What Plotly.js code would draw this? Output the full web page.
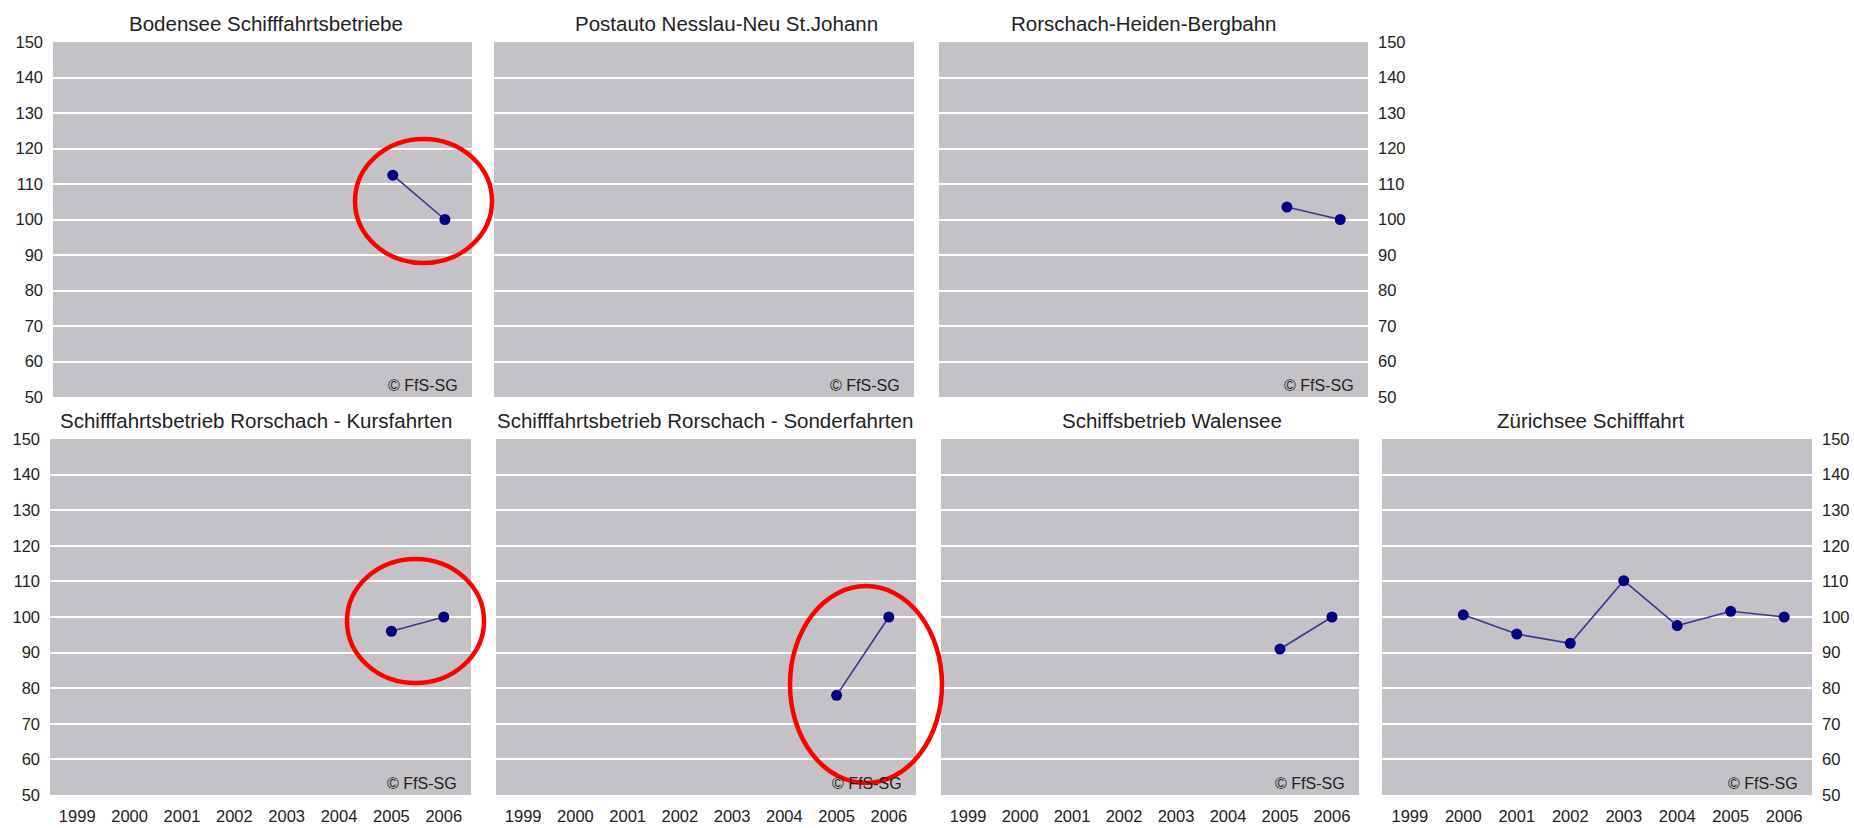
<!DOCTYPE html>
<html>
<head>
<meta charset="utf-8">
<script src="https://cdn.plot.ly/plotly-3.0.1.min.js"></script>
<style>
  html, body { margin: 0; padding: 0; background: #ffffff; }
  #chart { width: 1854px; height: 828px; }
</style>
</head>
<body>
<div id="chart"></div>
<script>
// ---- Data ----
const years = ['1999', '2000', '2001', '2002', '2003', '2004', '2005', '2006'];
const yTicks = [50, 60, 70, 80, 90, 100, 110, 120, 130, 140, 150];

const titles = [
  'Bodensee Schifffahrtsbetriebe',
  'Postauto Nesslau-Neu St.Johann',
  'Rorschach-Heiden-Bergbahn',
  'Schifffahrtsbetrieb Rorschach - Kursfahrten',
  'Schifffahrtsbetrieb Rorschach - Sonderfahrten',
  'Schiffsbetrieb Walensee',
  'Zürichsee Schifffahrt'
];

const bodensee        = [null, null, null, null, null, null, 112.5, 100];
const postauto        = [null, null, null, null, null, null, null, null];
const rorschachHeiden = [null, null, null, null, null, null, 103.5, 100];
const kursfahrten     = [null, null, null, null, null, null, 96, 100];
const sonderfahrten   = [null, null, null, null, null, null, 78, 100];
const walensee        = [null, null, null, null, null, null, 91, 100];
const zuerichsee      = [null, 100.6, 95.2, 92.6, 110.2, 97.6, 101.6, 100];

const series = [bodensee, postauto, rorschachHeiden, kursfahrten, sonderfahrten, walensee, zuerichsee];
const copyright = '© FfS-SG';

// ---- Layout (pixel geometry) ----
const W = 1854, H = 828;
// [x0, x1, yTop, yBottom] in page pixels
const boxes = [
  [53, 472, 42, 397],
  [494, 914, 42, 397],
  [939, 1368, 42, 397],
  [50, 471, 439, 795],
  [496, 916, 439, 795],
  [941, 1359, 439, 795],
  [1382, 1812, 439, 795]
];
const ySide = ['left', null, 'right', 'left', null, null, 'right'];
const showX = [false, false, false, true, true, true, true];
const titlePos = [
  [266, 23, 'center'], [726, 23, 'center'], [1144, 23, 'center'],
  [58, 420, 'left'], [915, 420, 'right'], [1284, 420, 'right'], [1495, 420, 'left']
];
// highlight ellipses in page pixels [x0, x1, yTop, yBottom]
const highlights = [
  [355, 492, 139, 263],
  [347, 484, 559, 683],
  [790, 942, 586, 783]
];

const FONT = 'Liberation Sans, Arial, sans-serif';
const traces = [];
const layout = {
  width: W, height: H,
  margin: {l: 0, r: 0, t: 0, b: 0},
  paper_bgcolor: '#ffffff',
  plot_bgcolor: '#c4c2c6',
  showlegend: false,
  font: {family: FONT, size: 17, color: '#222222'},
  annotations: [],
  shapes: []
};

series.forEach((vals, i) => {
  const n = i + 1;
  const xa = n === 1 ? 'x' : 'x' + n;
  const ya = n === 1 ? 'y' : 'y' + n;
  traces.push({
    type: 'scatter', mode: 'lines+markers',
    x: years, y: vals, xaxis: xa, yaxis: ya,
    connectgaps: false,
    line: {color: '#38388f', width: 1.6},
    marker: {color: '#000080', size: 11},
    cliponaxis: false,
    hoverinfo: 'x+y'
  });
  const b = boxes[i];
  const xKey = n === 1 ? 'xaxis' : 'xaxis' + n;
  const yKey = n === 1 ? 'yaxis' : 'yaxis' + n;
  layout[xKey] = {
    domain: [b[0] / W, b[1] / W],
    anchor: ya,
    type: 'category',
    categoryorder: 'array', categoryarray: years,
    range: [-0.52, 7.52],
    showgrid: false, zeroline: false, showline: false,
    ticks: '', showticklabels: showX[i],
    ticklabelstandoff: 9,
    tickfont: {family: FONT, size: 16.5, color: '#222222'},
    fixedrange: true
  };
  layout[yKey] = {
    domain: [1 - b[3] / H, 1 - b[2] / H],
    anchor: xa,
    range: [50, 150],
    tickvals: yTicks,
    showgrid: true, gridcolor: '#ffffff', gridwidth: 2,
    zeroline: false, showline: false, ticks: '',
    showticklabels: ySide[i] !== null,
    side: ySide[i] === 'right' ? 'right' : 'left',
    ticklabelstandoff: 9,
    tickfont: {family: FONT, size: 16.5, color: '#222222'},
    fixedrange: true
  };
  const tp = titlePos[i];
  layout.annotations.push({
    text: titles[i], xref: 'paper', yref: 'paper',
    x: tp[0] / W, y: 1 - tp[1] / H, xanchor: tp[2], yanchor: 'middle',
    showarrow: false, font: {family: FONT, size: 20.5, color: '#222222'}
  });
  layout.annotations.push({
    text: copyright, xref: xa + ' domain', yref: ya + ' domain',
    x: 1, y: 0, xanchor: 'right', yanchor: 'bottom', xshift: -12, yshift: 1,
    showarrow: false, font: {family: FONT, size: 16, color: '#222222'}
  });
});

highlights.forEach(h => {
  layout.shapes.push({
    type: 'circle', xref: 'paper', yref: 'paper',
    x0: h[0] / W, x1: h[1] / W, y0: 1 - h[3] / H, y1: 1 - h[2] / H,
    line: {color: '#ff0000', width: 4.5}, layer: 'above'
  });
});

Plotly.newPlot('chart', traces, layout, {staticPlot: true, displayModeBar: false});
</script>
</body>
</html>
